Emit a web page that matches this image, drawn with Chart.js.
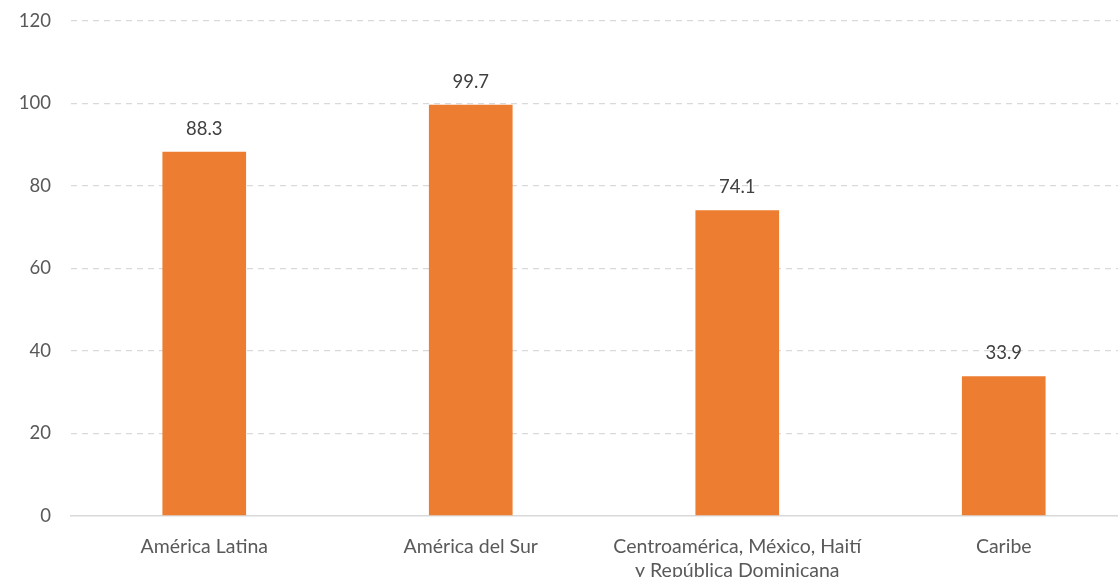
<!DOCTYPE html>
<html>
<head>
<meta charset="utf-8">
<script src="https://cdn.jsdelivr.net/npm/chart.js@4.4.0/dist/chart.umd.min.js"></script>
<style>
  html, body { margin: 0; padding: 0; background: #fff; overflow: hidden; }
  #wrap { width: 1137px; height: 577px; position: relative; }
</style>
</head>
<body>
<div id="wrap"><canvas id="chart"></canvas></div>
<script>
// data
const categories = [
  "América Latina",
  "América del Sur",
  ["Centroamérica, México, Haití", "y República Dominicana"],
  "Caribe"
];
const values = [88.3, 99.7, 74.1, 33.9];
const yTicks = [0, 20, 40, 60, 80, 100, 120];

const FONT = "Lato, 'Open Sans', sans-serif";

// value labels above each bar
const barLabels = {
  id: "barLabels",
  afterDatasetsDraw(chart) {
    const ctx = chart.ctx;
    const meta = chart.getDatasetMeta(0);
    ctx.save();
    ctx.font = "18.5px " + FONT;
    ctx.fillStyle = "#404040";
    ctx.textAlign = "center";
    ctx.textBaseline = "middle";
    meta.data.forEach((bar, i) => {
      ctx.fillText(values[i].toFixed(1), bar.x, bar.y - 23);
    });
    ctx.restore();
  }
};

new Chart(document.getElementById("chart"), {
  type: "bar",
  data: {
    labels: categories,
    datasets: [{
      data: values,
      backgroundColor: "#ED7D31",
      borderWidth: 0,
      barPercentage: 0.314,
      categoryPercentage: 1
    }]
  },
  options: {
    responsive: true,
    maintainAspectRatio: false,
    animation: false,
    layout: { padding: 0 },
    plugins: {
      legend: { display: false },
      tooltip: { enabled: false }
    },
    scales: {
      x: {
        grid: { display: false, drawTicks: false },
        border: { display: true, color: "#d9d9d9", width: 1.5 },
        ticks: {
          color: "#595959",
          font: { family: FONT, size: 19.5, lineHeight: 1.26 },
          padding: 18,
          maxRotation: 0,
          autoSkip: false
        },
        afterFit: (s) => { s.height = 61; }
      },
      y: {
        min: 0,
        max: 120,
        afterBuildTicks: (s) => { s.ticks = yTicks.map(v => ({ value: v })); },
        grid: {
          drawTicks: false,
          color: (c) => c.tick && c.tick.value === 0 ? "rgba(0,0,0,0)" : "#d9d9d9",
          lineWidth: 1.3
        },
        border: { display: false, dash: [6, 5] },
        ticks: {
          color: "#595959",
          font: { family: FONT, size: 18.5 },
          padding: 20
        },
        afterFit: (s) => { s.width = 71; s.paddingTop = 21; s.paddingBottom = 0; }
      }
    }
  },
  plugins: [barLabels]
});
</script>
</body>
</html>
